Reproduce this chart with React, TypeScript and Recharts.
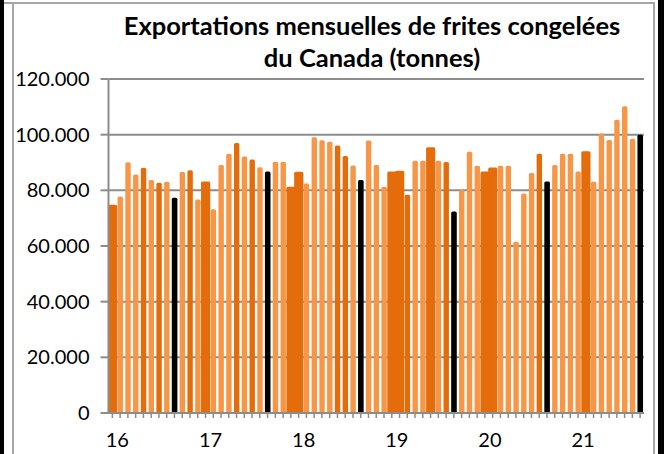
import React from 'react';
import { BarChart, Bar, XAxis, YAxis, CartesianGrid } from 'recharts';

const years = ['16', '17', '18', '19', '20', '21'];
const monthNames = ['janv', 'févr', 'mars', 'avr', 'mai', 'juin', 'juil', 'août', 'sept', 'oct', 'nov', 'déc'];

// Monthly exports, tonnes (Jan 2016 .. Sep 2021)
const exportsTonnes = [
  74800, 77800, 90100, 85700, 88100, 83700, 82700, 83100, 77300, 86600, 87200, 76700,
  83200, 73200, 89100, 93100, 97000, 92200, 91100, 88300, 86800, 90300, 90300, 81300,
  86700, 82500, 99100, 98000, 97500, 96100, 92300, 88900, 83700, 97900, 89100, 81300,
  86800, 87000, 78400, 90600, 90600, 95500, 90600, 90200, 72400, 80100, 93900, 88800,
  86800, 88200, 88800, 88800, 61500, 78900, 86200, 93100, 83200, 89100, 93100, 93100,
  86800, 94000, 83100, 100400, 98100, 105400, 110200, 98500, 100000,
];

// L = light orange, N = dark orange (narrow), W = dark orange (wide), K = black
const barKinds = [
  'W', 'L', 'L', 'L', 'N', 'L', 'N', 'L', 'K', 'L', 'N', 'L',
  'W', 'L', 'L', 'L', 'N', 'L', 'N', 'L', 'K', 'L', 'L', 'W',
  'W', 'L', 'L', 'L', 'L', 'N', 'N', 'L', 'K', 'L', 'L', 'L',
  'W', 'W', 'N', 'L', 'L', 'W', 'L', 'N', 'K', 'L', 'L', 'L',
  'W', 'W', 'L', 'L', 'L', 'L', 'L', 'N', 'K', 'L', 'L', 'L',
  'L', 'W', 'L', 'L', 'L', 'L', 'L', 'L', 'K',
];

const yTicks = [0, 20000, 40000, 60000, 80000, 100000, 120000];

const data = exportsTonnes.map((v, i) => ({
  month: `${monthNames[i % 12]} ${years[Math.floor(i / 12)]}`,
  value: v,
  kind: barKinds[i],
}));

const FILLS: Record<string, string> = { L: '#F79646', N: '#E46C0A', W: '#E46C0A', K: '#000000' };
const INSETS: Record<string, number> = { L: 1.3, N: 1.3, W: -0.6, K: 1.2 };

const GRID = '#8C8C8C';
const FONT = 'Lato, "Open Sans", sans-serif';

function BarShape(props: any) {
  const { x, y, width, height, payload } = props;
  const k = payload.kind;
  const d = INSETS[k];
  const x0 = x + d;
  const w = width - 2 * d;
  const r = Math.min(1.5, w / 2, height);
  const path = `M${x0},${y + height} L${x0},${y + r} Q${x0},${y} ${x0 + r},${y} L${x0 + w - r},${y} Q${x0 + w},${y} ${x0 + w},${y + r} L${x0 + w},${y + height} Z`;
  return <path d={path} fill={FILLS[k]} />;
}

function YearTick(props: any) {
  const { x, y, payload } = props;
  const label: string = payload.value;
  if (!label.startsWith('janv')) return null;
  return (
    <text x={x + 5} y={y + 27} textAnchor="middle" fontSize={20} fontFamily={FONT} fill="#000">
      {label.split(' ')[1]}
    </text>
  );
}

const fmt = (v: number) => String(v).replace(/\B(?=(\d{3})+(?!\d))/g, '.');

export default function App() {
  return (
    <div style={{ position: 'absolute', left: 0, top: 0, width: 664, height: 454, background: '#000', overflow: 'hidden' }}>
      <div style={{ position: 'absolute', left: 4, top: 0, width: 654, height: 454, background: '#fff' }} />
      <div style={{ position: 'absolute', left: 4, top: 2, width: 650, height: 2, background: '#A6A6A6' }} />
      <div style={{ position: 'absolute', left: 12, top: 2, width: 2, height: 452, background: '#A6A6A6' }} />
      <div style={{ position: 'absolute', left: 653, top: 2, width: 2, height: 452, background: '#A6A6A6' }} />
      <div
        style={{
          position: 'absolute',
          left: 100,
          width: 544,
          top: 9,
          textAlign: 'center',
          fontFamily: FONT,
          fontWeight: 700,
          fontSize: 25.5,
          lineHeight: '32px',
          color: '#000',
        }}
      >
        <div>Exportations mensuelles de frites congelées</div>
        <div>du Canada (tonnes)</div>
      </div>
      <div style={{ position: 'absolute', left: 0, top: 0 }}>
        <BarChart
          width={664}
          height={454}
          data={data}
          margin={{ top: 79, right: 20, bottom: 0, left: 0 }}
          barCategoryGap={0}
          barGap={0}
        >
          <CartesianGrid vertical={false} stroke={GRID} strokeWidth={2} />
          <XAxis
            dataKey="month"
            interval={0}
            height={41}
            tickSize={5}
            tickMargin={2}
            tick={<YearTick />}
            axisLine={{ stroke: GRID, strokeWidth: 2 }}
            tickLine={{ stroke: GRID, strokeWidth: 1.5 }}
          />
          <YAxis
            width={108.5}
            domain={[0, 120000]}
            ticks={yTicks}
            interval={0}
            tickFormatter={fmt}
            tickSize={8}
            tickMargin={11}
            axisLine={{ stroke: GRID, strokeWidth: 2 }}
            tickLine={{ stroke: GRID, strokeWidth: 2 }}
            tick={{ fontSize: 20, fontFamily: FONT, fill: '#000' }}
          />
          <Bar dataKey="value" isAnimationActive={false} shape={<BarShape />} />
        </BarChart>
      </div>
    </div>
  );
}
